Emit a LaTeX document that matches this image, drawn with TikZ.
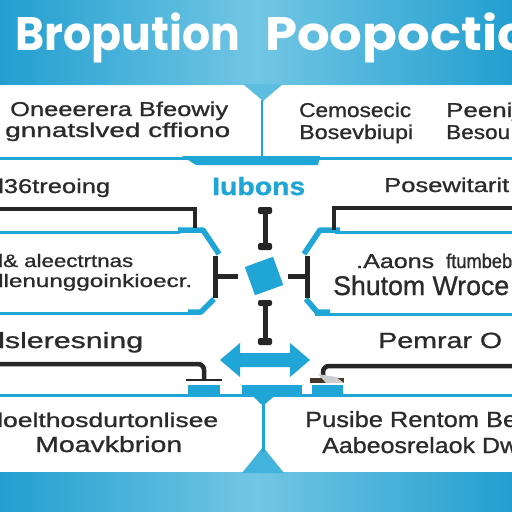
\documentclass[tikz,border=0pt]{standalone}
\usepackage{fontspec}
\setmainfont{Liberation Sans}
\newfontfamily\bodyfont{Liberation Sans}[FakeBold=0.9]
\newfontfamily\titlefont{Poppins}
\usepackage{graphicx}
\definecolor{bgA}{HTML}{229FD0}
\definecolor{bgB}{HTML}{72C6E4}
\definecolor{lblue}{HTML}{1FA6D6}
\definecolor{nblue}{HTML}{5DBDE1}
\definecolor{ink}{HTML}{2B2B2B}
\definecolor{blk}{HTML}{262626}
\newcommand\fw[2]{\resizebox{#1}{\height}{#2}}
\begin{document}
\begin{tikzpicture}[x=1pt,y=-1pt,
  txt/.style={inner sep=0pt, anchor=base west, text=ink, font=\bodyfont\fontsize{20}{24}\selectfont},
  bigtxt/.style={txt, font=\bodyfont\fontsize{22}{26}\selectfont},
  smalltxt/.style={txt, font=\bodyfont\fontsize{18}{20}\selectfont},
  ttl/.style={inner sep=0pt, anchor=base west, text=white, font=\titlefont\bfseries\fontsize{47}{52}\selectfont},
  bline/.style={draw=lblue, line width=3pt},
  bthick/.style={draw=lblue, line width=5.5pt, line join=round},
  kline/.style={draw=blk, line width=4.5pt},
  ibeam/.style={draw=blk, line width=5pt},
  beamcap/.style={fill=blk, rounded corners=2pt}
]
\useasboundingbox (0,0) rectangle (512,512);
\clip (0,0) rectangle (512,512);
% background
\shade[left color=bgA, right color=bgA, middle color=bgB] (0,0) rectangle (512,512);
\fill[white] (0,85) rectangle (512,472);
% title
\node[ttl] (t1) at (15,50) {\fw{225pt}{Bropution}};
\node[ttl] (t2) at (265,50) {\fw{263pt}{Poopoctic}};
% top notch and stem
\fill[nblue] (243,84) -- (283,84) -- (263,101) -- cycle;
\draw[draw=lblue, line width=2.5pt] (262,100) -- (262,157);
% bottom notch and stem
\fill[lblue!85!white] (242,473) -- (284,473) -- (263,447) -- cycle;
\draw[draw=lblue, line width=3pt] (263,395) -- (263,452);
\fill[lblue] (250,393) -- (278,393) -- (265,404) -- (261,404) -- cycle;
% row dividers
\draw[bline] (0,158) -- (512,158);
\fill[lblue] (182,156) -- (320,156) -- (318,165) -- (196,165) -- cycle;
\draw[bline] (0,232) -- (180,232);
\draw[bthick] (178,230) -- (203,230) -- (219,254);
\draw[bthick] (214,299) -- (201,312) -- (188,312);
\draw[bline] (0,313) -- (200,313);
\draw[bline] (512,232) -- (335,232);
\draw[bthick] (340,230) -- (320,230) -- (304,254);
\draw[bthick] (306,299) -- (317,312) -- (330,312);
\draw[bline] (315,314) -- (512,314);
\draw[bline] (0,395) -- (512,395);
\fill[lblue] (188,385) rectangle (220,394);
\fill[lblue] (242,385) rectangle (302,394);
\fill[lblue] (312,385) rectangle (343,394);
% black brackets
\draw[kline] (0,209) -- (195,209) -- (195,228);
\draw[kline] (512,208) -- (334,208) -- (334,230);
\draw[ibeam] (215,256) -- (215,298);
\draw[ibeam] (215,276) -- (238,276);
\draw[ibeam] (307,256) -- (307,298);
\draw[ibeam] (307,276) -- (288,276);
\draw[kline, rounded corners=6pt] (0,364) -- (204,364) -- (204,380);
\draw[draw=blk, line width=2pt] (186,380) -- (222,380);
\draw[kline, rounded corners=6pt] (512,366) -- (323,366) -- (323,380);
\fill[blk!80!brown] (310,378) rectangle (344,383);
\fill[gray!40] (318,374) -- (336,377) -- (344,383) -- (326,383) -- cycle;
% centre I-beams
\draw[ibeam] (265,211) -- (265,245);
\fill[beamcap] (258,207) rectangle (272,214);
\fill[beamcap] (258,243) rectangle (272,250);
\draw[ibeam] (265,304) -- (265,340);
\fill[beamcap] (258,300) rectangle (272,306);
\fill[beamcap] (258,338) rectangle (272,345);
% centre square
\node[fill=lblue, rotate=20, minimum size=30pt, inner sep=0pt] (sq) at (264,276) {};
% double arrow
\fill[lblue] (220,360) -- (240,343) -- (240,353) -- (290,353) -- (290,343) -- (310,360)
  -- (290,377) -- (290,367) -- (240,367) -- (240,377) -- cycle;
% centre label
\node[inner sep=0pt, anchor=base west, text=lblue, font=\bodyfont\bfseries\fontsize{25}{28}\selectfont] (lab) at (212,195) {\fw{93pt}{Iubons}};
% row 1
\node[txt] (a1) at (10,116) {\fw{218pt}{Oneeerera Bfeowiy}};
\node[txt] (a2) at (5,137) {\fw{225pt}{gnnatslved cffiono}};
\node[txt] (b1) at (299,117) {\fw{112pt}{Cemosecic}};
\node[txt] (b2) at (446,117) {\fw{72pt}{Peenij}};
\node[txt] (b3) at (299,139) {\fw{114pt}{Bosevbiupi}};
\node[txt] (b4) at (446,139) {\fw{64pt}{Besou}};
% row 2
\node[txt] (c1) at (-2,193) {\fw{112pt}{l36treoing}};
\node[txt] (d1) at (384,192) {\fw{125pt}{Posewitarit}};
% row 3
\node[smalltxt] (e1) at (-2,267) {\fw{135pt}{l\& aleectrtnas}};
\node[smalltxt] (e2) at (-2,287) {\fw{194pt}{llenunggoinkioecr.}};
\node[txt] (f1) at (356,268) {\fw{78pt}{.Aaons}};
\node[txt] (f2) at (446,268) {\fw{66pt}{ftumbeb}};
\node[txt, font=\bodyfont\fontsize{27}{30}\selectfont] (f3) at (333,295) {\fw{176pt}{Shutom Wroce}};
% row 4
\node[bigtxt] (g1) at (-2,348) {\fw{145pt}{lsleresning}};
\node[bigtxt] (h1) at (378,348) {\fw{124pt}{Pemrar O}};
% row 5
\node[txt] (i1) at (-3,427) {\fw{221pt}{loelthosdurtonlisee}};
\node[bigtxt] (i2) at (35,452) {\fw{147pt}{Moavkbrion}};
\node[bigtxt] (j1) at (305,427) {\fw{212pt}{Pusibe Rentom Be}};
\node[bigtxt] (j2) at (322,453) {\fw{196pt}{Aabeosrelaok Dw}};
\end{tikzpicture}
\end{document}
